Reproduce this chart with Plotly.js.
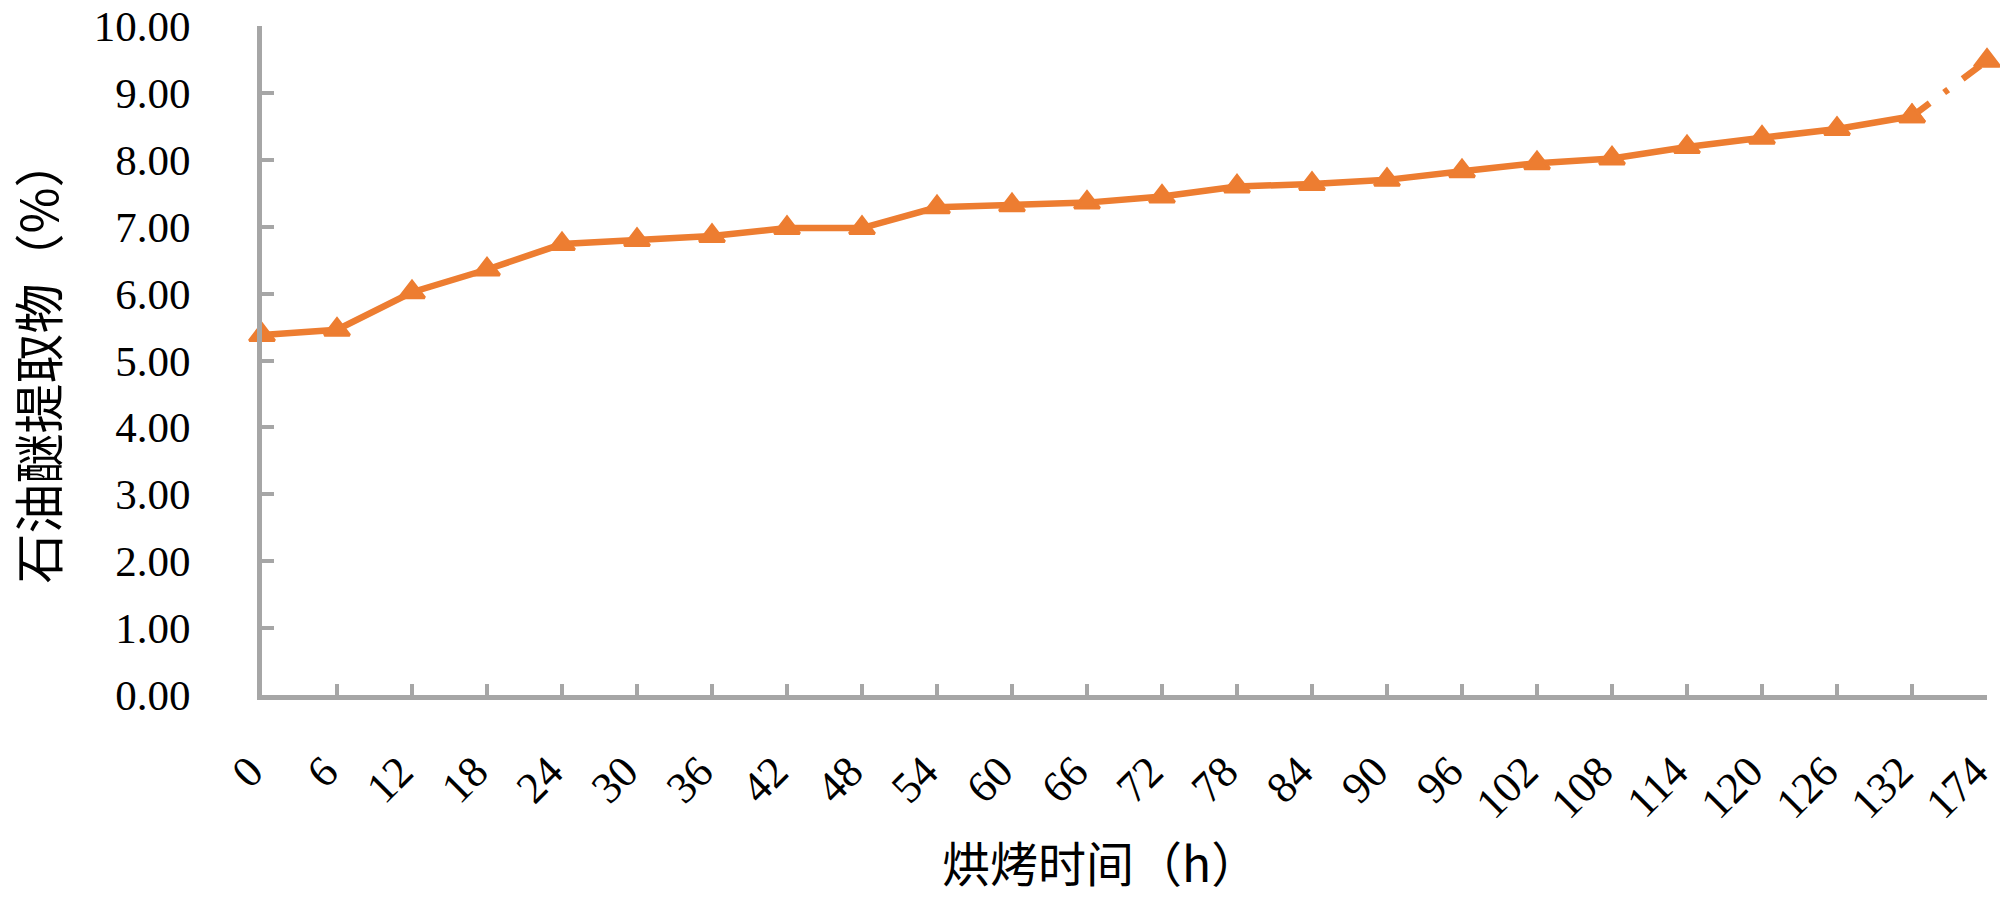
<!DOCTYPE html>
<html>
<head>
<meta charset="utf-8">
<script src="https://cdn.plot.ly/plotly-3.0.1.min.js"></script>
<style>
  html, body { margin: 0; padding: 0; background: #fff; }
  #chart { width: 2000px; height: 902px; }
</style>
</head>
<body>
<div id="chart"></div>
<script>
// baking time (h) and petroleum ether extract (%)
const hours = ['0', '6', '12', '18', '24', '30', '36', '42', '48', '54', '60', '66',
  '72', '78', '84', '90', '96', '102', '108', '114', '120', '126', '132', '174'];
const extract = [5.38, 5.46, 6.02, 6.36, 6.74, 6.80, 6.86, 6.98, 6.98, 7.29, 7.32, 7.36,
  7.45, 7.60, 7.64, 7.70, 7.83, 7.95, 8.02, 8.19, 8.33, 8.46, 8.65, 9.48];
const yTicks = [0, 1, 2, 3, 4, 5, 6, 7, 8, 9, 10];

const orange = '#ED7D31';
const gray = '#A6A6A6';
const n = hours.length;

const markerStyle = { symbol: 'triangle-up', size: 22, color: orange, line: { color: orange, width: 3 } };

// last step (132 -> 174) is drawn dash-dot
const tail = {
  x: hours.slice(n - 2),
  y: extract.slice(n - 2),
  type: 'scatter',
  mode: 'lines+markers',
  line: { color: orange, width: 6.5, dash: '22px,18px,5px,18px' },
  marker: markerStyle,
  cliponaxis: false,
  hoverinfo: 'x+y'
};

const main = {
  x: hours.slice(0, n - 1),
  y: extract.slice(0, n - 1),
  type: 'scatter',
  mode: 'lines+markers',
  line: { color: orange, width: 6.5 },
  marker: markerStyle,
  cliponaxis: false,
  hoverinfo: 'x+y'
};

const layout = {
  width: 2000,
  height: 902,
  margin: { l: 262, r: 13, t: 26, b: 207 },
  paper_bgcolor: '#fff',
  plot_bgcolor: '#fff',
  showlegend: false,
  font: { family: 'Liberation Serif, serif', color: '#000' },
  xaxis: {
    type: 'category',
    categoryorder: 'array',
    categoryarray: hours,
    range: [0, n - 1],
    tickmode: 'array',
    tickvals: hours,
    ticktext: hours,
    tickangle: -45,
    tickfont: { family: 'Liberation Serif, serif', size: 44, color: '#000' },
    ticks: 'inside',
    ticklen: 11,
    tickwidth: 4,
    tickcolor: gray,
    ticklabelstandoff: 28,
    ticklabelshift: -12,
    ticklabeloverflow: 'allow',
    showline: true,
    linecolor: gray,
    linewidth: 5,
    showgrid: false,
    zeroline: false
  },
  yaxis: {
    range: [0, 10],
    tickmode: 'array',
    tickvals: yTicks,
    ticktext: yTicks.map(v => v.toFixed(2)),
    tickfont: { family: 'Liberation Serif, serif', size: 43, color: '#000' },
    ticks: 'inside',
    ticklen: 12,
    tickwidth: 4,
    tickcolor: gray,
    ticklabelstandoff: 58,
    ticklabeloverflow: 'allow',
    showline: true,
    linecolor: gray,
    linewidth: 5,
    showgrid: false,
    zeroline: false,
    title: {
      text: '石油醚提取物（%）',
      font: { family: 'Noto Sans CJK SC', size: 50, color: '#000' },
      standoff: 42
    }
  },
  annotations: [{
    text: '烘烤时间（h）',
    xref: 'paper', yref: 'paper',
    x: (1100 - 262) / (1987 - 262), y: 0,
    yshift: -166,
    xanchor: 'center', yanchor: 'middle',
    showarrow: false,
    font: { family: 'Noto Sans CJK SC', size: 48, color: '#000' }
  }]
};

Plotly.newPlot('chart', [tail, main], layout, { displayModeBar: false });
</script>
</body>
</html>
